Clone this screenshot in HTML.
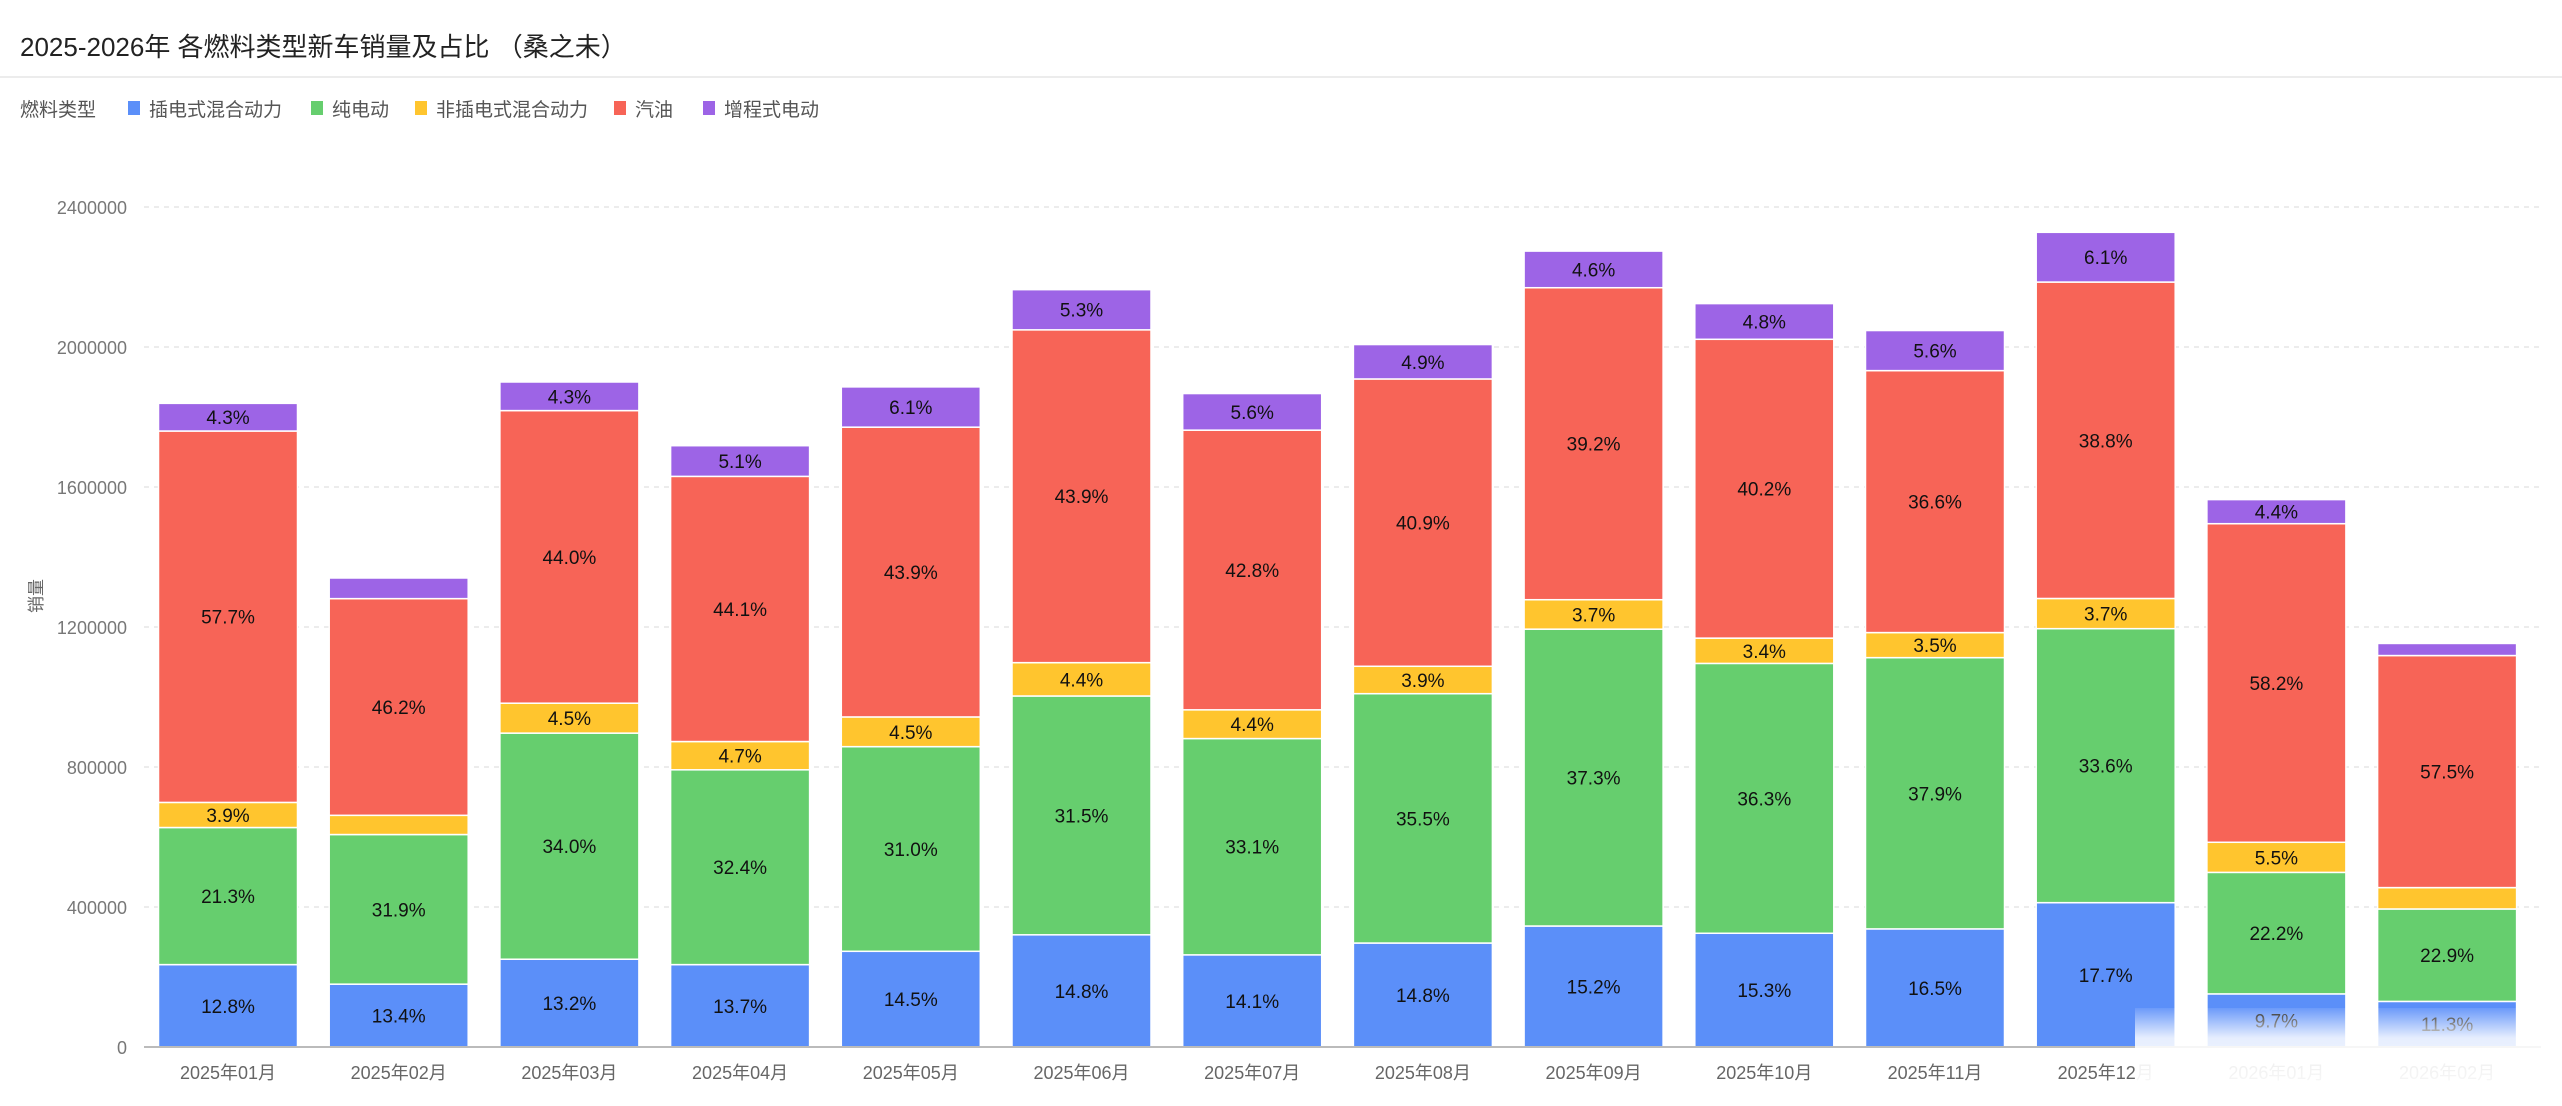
<!DOCTYPE html>
<html><head><meta charset="utf-8">
<style>
html,body{margin:0;padding:0;background:#fff;}
svg{display:block;font-family:"Liberation Sans","Noto Sans CJK SC",sans-serif;}
</style></head>
<body>
<svg id="chart" width="2562" height="1106" viewBox="0 0 2562 1106" xmlns="http://www.w3.org/2000/svg">
  <text x="20" y="56" font-size="26" fill="#222">2025-2026年 各燃料类型新车销量及占比 （桑之未）</text>
  <line x1="0" y1="77" x2="2562" y2="77" stroke="#ececec" stroke-width="2"/>
  <g id="legend">
    <text x="20" y="116" font-size="19" fill="#555">燃料类型</text>
  </g>
  <text transform="translate(42,596) rotate(-90)" text-anchor="middle" font-size="17" fill="#666">销量</text>
  <g id="grid"></g>
  <g id="bars"></g>
  <g id="xlabels"></g>
  <line x1="144" y1="1047" x2="2541" y2="1047" stroke="#bbb" stroke-width="2"/>
  <defs>
    <linearGradient id="wm" x1="0" y1="0" x2="0" y2="1">
      <stop offset="0" stop-color="#fff" stop-opacity="0.1"/>
      <stop offset="0.35" stop-color="#fff" stop-opacity="0.85"/>
      <stop offset="1" stop-color="#fff" stop-opacity="0.97"/>
    </linearGradient>
  </defs>
  <rect x="2135" y="1008" width="410" height="86" fill="url(#wm)"/>
</svg>
<script>
const categories = ["2025年01月","2025年02月","2025年03月","2025年04月","2025年05月","2025年06月","2025年07月","2025年08月","2025年09月","2025年10月","2025年11月","2025年12月","2026年01月","2026年02月"];
const totals = [1839000,1340000,1900000,1718000,1886000,2166000,1867000,2007000,2274000,2124000,2045000,2330000,1564000,1153000];
const seriesNames = ["插电式混合动力","纯电动","非插电式混合动力","汽油","增程式电动"];
const phevPct = [12.8,13.4,13.2,13.7,14.5,14.8,14.1,14.8,15.2,15.3,16.5,17.7,9.7,11.3];
const bevPct = [21.3,31.9,34.0,32.4,31.0,31.5,33.1,35.5,37.3,36.3,37.9,33.6,22.2,22.9];
const hevPct = [3.9,4.1,4.5,4.7,4.5,4.4,4.4,3.9,3.7,3.4,3.5,3.7,5.5,5.3];
const gasPct = [57.7,46.2,44.0,44.1,43.9,43.9,42.8,40.9,39.2,40.2,36.6,38.8,58.2,57.5];
const erevPct = [4.3,4.4,4.3,5.1,6.1,5.3,5.6,4.9,4.6,4.8,5.6,6.1,4.4,3.0];
const yTicks = [0,400000,800000,1200000,1600000,2000000,2400000];
const colors = ["#5B8FF9","#66CE6E","#FFC52E","#F76457","#9D64E6"];
const NS="http://www.w3.org/2000/svg";
const y0=1047, pxPerUnit=35/100000;
const yScale=v=>y0-v*pxPerUnit;
const xStart=158.5, pitch=170.7, bw=139;
const xScale=i=>xStart+i*pitch;
function mk(tag,attrs,parent){const e=document.createElementNS(NS,tag);for(const k in attrs)e.setAttribute(k,attrs[k]);parent.appendChild(e);return e;}
const grid=document.getElementById('grid');
yTicks.forEach(t=>{
  const y=yScale(t);
  if(t>0){const l=mk('line',{x1:144,x2:2541,y1:y,y2:y,stroke:'#e6e6e6','stroke-width':1.5,'stroke-dasharray':'5,5'},grid);
  
  }
  const tx=mk('text',{x:127,y:y+7,'text-anchor':'end','font-size':18,fill:'#777'},grid);
  
  
  tx.textContent=String(t);
});
const legend=document.getElementById('legend');
const legX=[128,311,415,614,703];
seriesNames.forEach((n,i)=>{
  const r=mk('rect',{x:legX[i],y:101,width:12,height:14,fill:colors[i]},legend);
  
  
  const t=mk('text',{x:legX[i]+21,y:116,'font-size':19,fill:'#555'},legend);
  
  
  t.textContent=n;
});
const bars=document.getElementById('bars');
const xl=document.getElementById('xlabels');
const pcts=[phevPct,bevPct,hevPct,gasPct,erevPct];
categories.forEach((c,i)=>{
  let cum=0;
  const x=xScale(i);
  pcts.forEach((arr,s)=>{
    const v=totals[i]*arr[i]/100;
    const yTop=yScale(cum+v), yBot=yScale(cum);
    const r=mk('rect',{x:x,y:yTop,width:bw,height:yBot-yTop,fill:colors[s],stroke:'#fff','stroke-width':1.5},bars);
    
    
    if(yBot-yTop>=23){
      const t=mk('text',{x:x+bw/2,y:(yTop+yBot)/2+7,'text-anchor':'middle','font-size':19,fill:'#111'},bars);
      
      
      t.textContent=arr[i].toFixed(1)+'%';
    }
    cum+=v;
  });
  const t=mk('text',{x:x+bw/2,y:1079,'text-anchor':'middle','font-size':18,fill:'#666'},xl);
  
  
  t.textContent=c;
});
</script>
</body></html>
